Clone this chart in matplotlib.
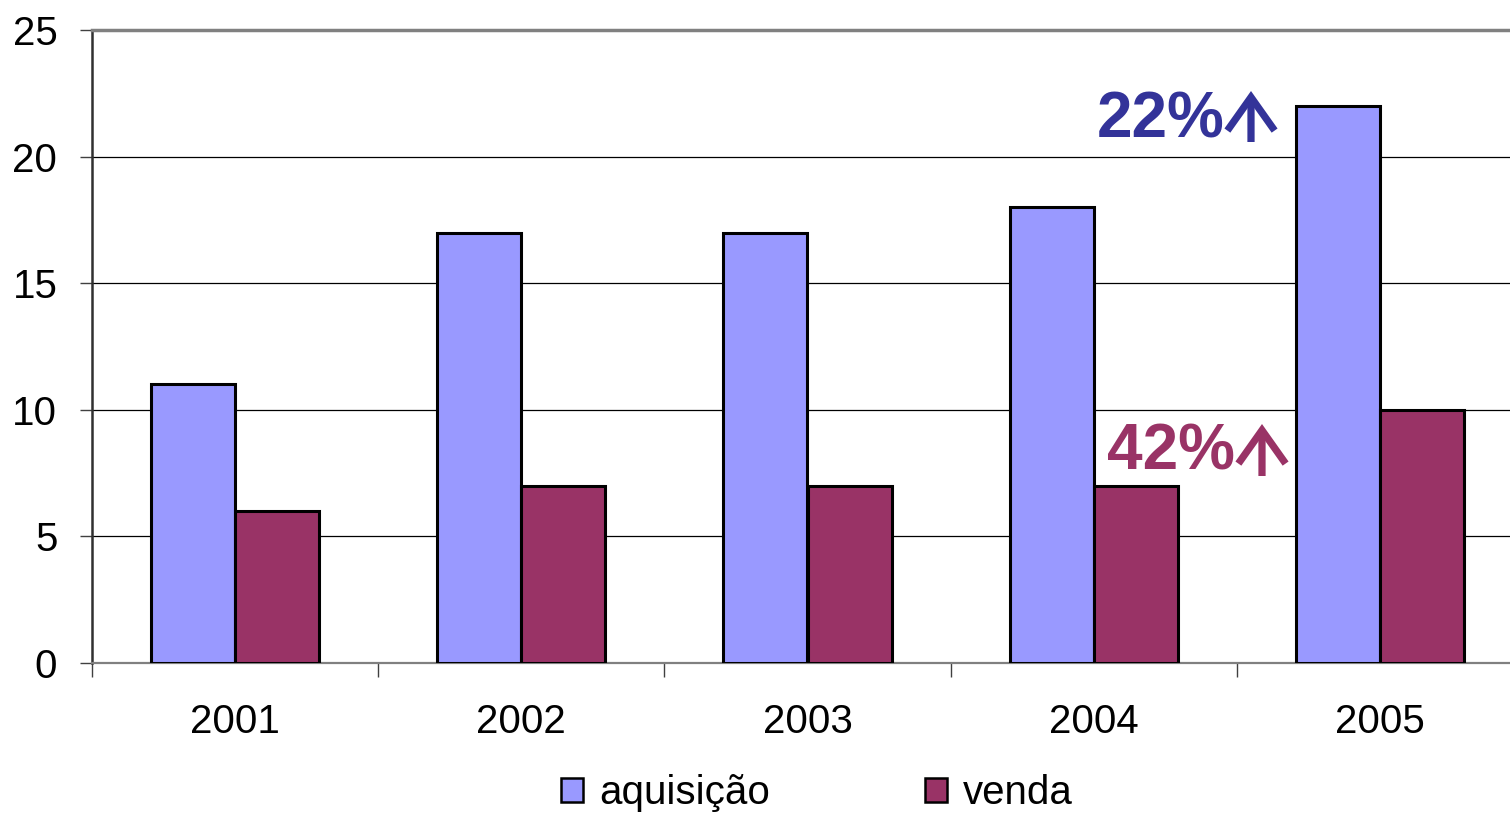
import matplotlib
matplotlib.use("Agg")
import matplotlib.pyplot as plt
import numpy as np
from matplotlib.patches import Patch

years = ["2001", "2002", "2003", "2004", "2005"]
aquisicao = [11, 17, 17, 18, 22]
venda = [6, 7, 7, 7, 10]
series_names = ["aquisição", "venda"]
annot_acq = "22%"
annot_venda = "42%"

plt.rcParams['font.family'] = ['Liberation Sans', 'DejaVu Sans']

W, H = 1510, 815
PX = 286.2
fig = plt.figure(figsize=(W / 100, H / 100), dpi=100)
ax = fig.add_axes([92 / W, (H - 663) / H, 5 * PX / W, 633 / H])

x = np.arange(len(years))
bw = 84 / PX
c_acq = "#9999FF"
c_ven = "#993366"
ax.bar(x - bw / 2, aquisicao, width=bw, color=c_acq, edgecolor="black", linewidth=2.2, zorder=3)
ax.bar(x + bw / 2, venda, width=bw, color=c_ven, edgecolor="black", linewidth=2.2, zorder=3)

ax.set_xlim(-0.5, len(years) - 0.5)
ax.set_ylim(0, 25)
ax.set_yticks([0, 5, 10, 15, 20, 25])
ax.yaxis.grid(True, color="black", linewidth=0.9, zorder=0)
ax.set_axisbelow(True)

ax.set_xticks(x)
ax.set_xticklabels(years)
ax.set_xticks(np.arange(len(years) + 1) - 0.5, minor=True)
ax.tick_params(axis="x", which="major", length=0, pad=29, labelsize=29)
ax.tick_params(axis="x", which="minor", length=10, width=1, color="#404040", direction="out")
ax.tick_params(axis="y", length=9, width=1, color="#404040", pad=16, labelsize=29)

ax.spines["right"].set_visible(False)
ax.spines["top"].set_color("#808080")
ax.spines["top"].set_linewidth(2.5)
ax.spines["left"].set_color("#303030")
ax.spines["left"].set_linewidth(1.8)
ax.spines["bottom"].set_color("#808080")
ax.spines["bottom"].set_linewidth(1.6)


def px2x(p):
    return (p - 92) / PX - 0.5


def px2y(p):
    return 25 * (663 - p) / 633


def ann(p_left, p_base, s, color, p_arrow, p_top, p_bot):
    ax.text(px2x(p_left), px2y(p_base), s, color=color, fontsize=46, fontweight="bold",
            ha="left", va="baseline", zorder=5)
    ax.annotate("", xy=(px2x(p_arrow), px2y(p_top)), xytext=(px2x(p_arrow), px2y(p_bot)),
                arrowprops=dict(arrowstyle="->,head_length=1.2,head_width=0.85",
                                mutation_scale=20, color=color, lw=5.2,
                                shrinkA=0, shrinkB=0, joinstyle="miter", capstyle="butt"),
                zorder=5)


ann(1097, 137, annot_acq, "#333399", 1251, 91, 142)
ann(1107, 470, annot_venda, c_ven, 1262, 424, 476)

handles = [Patch(facecolor=c_acq, edgecolor="black", linewidth=1.8),
           Patch(facecolor=c_ven, edgecolor="black", linewidth=1.8)]
fig.legend(handles, series_names, loc="center", bbox_to_anchor=(817 / W, 1 - 793 / H),
           ncol=2, frameon=False, fontsize=29, handlelength=0.55, handleheight=0.55,
           handletextpad=0.4, columnspacing=3.85)

fig.savefig("out.png", dpi=100)
